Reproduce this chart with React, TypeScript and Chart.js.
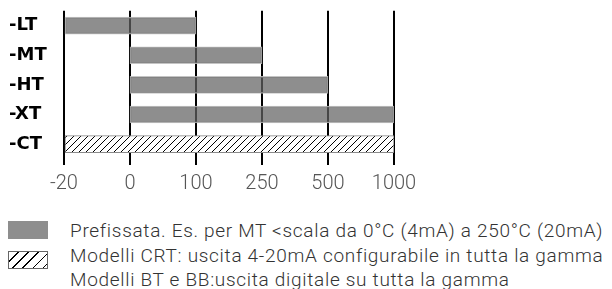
import React, { useEffect, useRef } from "react";
import { Chart, registerables } from "chart.js";

Chart.register(...registerables);

const categories = ["-LT", "-MT", "-HT", "-XT", "-CT"];
const tickLabels = ["-20", "0", "100", "250", "500", "1000"];
const rangeStart = [-20, 0, 0, 0, -20];
const rangeEnd = [100, 250, 500, 1000, 1000];
const legendLines = [
  "Prefissata. Es. per MT <scala da 0°C (4mA) a 250°C (20mA)",
  "Modelli CRT: uscita 4-20mA configurabile in tutta la gamma",
  "Modelli BT e BB:uscita digitale su tutta la gamma",
];

const GRAY = "rgba(98,98,98,0.72)";
const LIGHT_FONT = "Roboto";

function makeHatch(): CanvasPattern | string {
  const c = document.createElement("canvas");
  const s = 7;
  c.width = s;
  c.height = s;
  const g = c.getContext("2d");
  if (!g) return "#fff";
  g.fillStyle = "#fff";
  g.fillRect(0, 0, s, s);
  g.strokeStyle = "#000";
  g.lineWidth = 1;
  g.beginPath();
  g.moveTo(0, s);
  g.lineTo(s, 0);
  g.moveTo(-1, 1);
  g.lineTo(1, -1);
  g.moveTo(s - 1, s + 1);
  g.lineTo(s + 1, s - 1);
  g.stroke();
  const p = g.createPattern(c, "repeat");
  return p || "#fff";
}

export default function App() {
  const ref = useRef<HTMLCanvasElement | null>(null);

  useEffect(() => {
    document.body.style.margin = "0";
    if (!ref.current) return;
    const hatch = makeHatch();
    const pos = (v: number) => tickLabels.indexOf(String(v));
    const data = categories.map((_, i) => [pos(rangeStart[i]), pos(rangeEnd[i])]);
    const last = categories.length - 1;
    const chart = new Chart(ref.current, {
      type: "bar",
      data: {
        labels: categories,
        datasets: [
          {
            data: data as any,
            backgroundColor: categories.map((_, i) => (i === last ? hatch : GRAY)) as any,
            borderColor: categories.map((_, i) => (i === last ? "#8a8a8a" : "rgba(190,190,190,0.9)")),
            borderWidth: 1,
            borderSkipped: false,
            barThickness: 17,
          },
        ],
      },
      options: {
        indexAxis: "y",
        animation: false,
        responsive: false,
        maintainAspectRatio: false,
        layout: { padding: { left: 9, right: 218, top: 7, bottom: 0 } },
        plugins: { legend: { display: false }, tooltip: { enabled: false } },
        scales: {
          x: {
            type: "linear",
            min: 0,
            max: tickLabels.length - 1,
            border: { display: false },
            grid: {
              color: "#000",
              lineWidth: 2,
              tickLength: 6,
              tickColor: "#000",
            },
            ticks: {
              stepSize: 1,
              padding: 7,
              color: "#555",
              font: { family: LIGHT_FONT, size: 20, weight: "300" as any },
              callback: (v: any) => tickLabels[Number(v)] ?? "",
            },
            afterFit: (s: any) => {
              s.height = 41;
            },
          },
          y: {
            type: "category",
            offset: true,
            border: { display: false },
            grid: { display: false },
            ticks: {
              crossAlign: "far",
              padding: 0,
              color: "#000",
              font: { family: "DejaVu Sans", size: 18, weight: "bold" },
            },
            afterFit: (s: any) => {
              s.width = 55;
            },
          },
        },
      },
    });
    return () => chart.destroy();
  }, []);

  const textStyle: React.CSSProperties = {
    position: "absolute",
    left: 70,
    fontFamily: LIGHT_FONT,
    fontWeight: 300,
    fontSize: 19,
    letterSpacing: "0.7px",
    color: "#333",
    whiteSpace: "nowrap",
    lineHeight: "20px",
  };

  return (
    <div style={{ position: "relative", width: 612, height: 289, background: "#fff", overflow: "hidden" }}>
      <canvas ref={ref} width={612} height={200} style={{ position: "absolute", left: 0, top: 0, width: 612, height: 200 }} />
      <div style={{ position: "absolute", left: 8, top: 221, width: 40, height: 18, background: "#8e8e8e" }} />
      <div
        style={{
          position: "absolute",
          left: 8,
          top: 251,
          width: 38,
          height: 16,
          border: "1px solid #666",
          background: "repeating-linear-gradient(135deg, #fff 0px, #fff 6px, #000 6px, #000 7.2px)",
        }}
      />
      <div style={{ ...textStyle, top: 221 }}>{legendLines[0]}</div>
      <div style={{ ...textStyle, top: 246 }}>{legendLines[1]}</div>
      <div style={{ ...textStyle, top: 270 }}>{legendLines[2]}</div>
    </div>
  );
}
